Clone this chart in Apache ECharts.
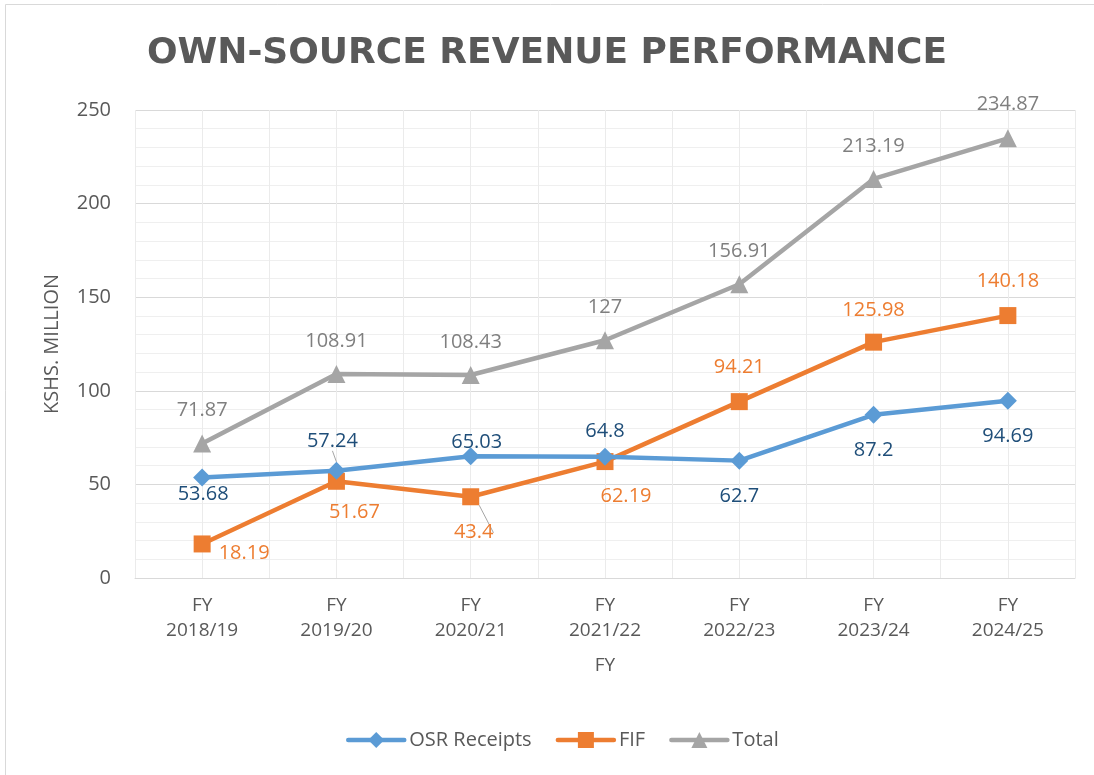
<!DOCTYPE html>
<html>
<head>
<meta charset="UTF-8">
<title>Own-Source Revenue Performance</title>
<script src="https://cdn.jsdelivr.net/npm/echarts@6/dist/echarts.min.js"></script>
<style>
  html, body { margin: 0; padding: 0; background: #fff; }
  #main { width: 1094px; height: 775px; }
</style>
</head>
<body>
<div id="main"></div>
<script>
// data
var years = ['FY 2018/19', 'FY 2019/20', 'FY 2020/21', 'FY 2021/22', 'FY 2022/23', 'FY 2023/24', 'FY 2024/25'];
var osrReceipts = [53.68, 57.24, 65.03, 64.8, 62.7, 87.2, 94.69];
var fif = [18.19, 51.67, 43.4, 62.19, 94.21, 125.98, 140.18];
var total = [71.87, 108.91, 108.43, 127, 156.91, 213.19, 234.87];
var yTicks = [0, 50, 100, 150, 200, 250];

var font = '"Open Sans", sans-serif';
var textGrey = '#595959';

// where each data label sits relative to its point (dx, dy)
var osrOffsets = [[1, 17], [-4, -30], [6, -14], [0, -25], [0, 36], [0, 36], [0, 36]];
var fifOffsets = [[42, 9], [18, 31], [3, 36], [21, 35], [0, -34], [0, -32], [0, -34]];
var totalOffsets = [[0, -33], [0, -33], [0, -33], [0, -33], [0, -33], [0, -33], [0, -34]];
// labels pushed away from their point get a small leader line
var osrLeaders = [1];
var fifLeaders = [2];

function withLabels(values, offsets, color, leaders) {
  return values.map(function (v, i) {
    var item = {
      value: v,
      label: { position: 'inside', offset: offsets[i], color: color }
    };
    if (leaders.indexOf(i) >= 0) {
      item.labelLine = { show: true, lineStyle: { color: '#a6a6a6', width: 1 } };
    }
    return item;
  });
}

var myChart = echarts.init(document.getElementById('main'));

myChart.setOption({
  backgroundColor: '#fff',
  animation: false,
  title: {
    text: 'OWN-SOURCE REVENUE PERFORMANCE',
    left: 'center',
    top: 31,
    textStyle: { fontFamily: '"DejaVu Sans", sans-serif', fontWeight: 'bold', fontSize: 36, color: textGrey }
  },
  graphic: [{
    type: 'rect',
    shape: { x: 5.5, y: 4.5, width: 1200, height: 900 },
    style: { fill: 'none', stroke: '#d9d9d9', lineWidth: 1 },
    silent: true
  }],
  legend: {
    left: 341,
    top: 725,
    itemWidth: 56,
    itemHeight: 20,
    itemGap: 24,
    lineStyle: { width: 4.5, cap: 'round' },
    textStyle: { fontFamily: font, fontSize: 20, color: textGrey },
    data: ['OSR Receipts', 'FIF', 'Total']
  },
  grid: { left: 135, right: 19, top: 110, bottom: 197 },
  xAxis: [{
    type: 'category',
    data: years,
    boundaryGap: true,
    name: 'FY',
    nameLocation: 'middle',
    nameGap: 78,
    nameTextStyle: { fontFamily: font, fontSize: 19, color: textGrey },
    axisLine: { lineStyle: { color: '#d9d9d9', width: 1 } },
    axisTick: { show: false },
    axisLabel: {
      margin: 15,
      fontFamily: font,
      fontSize: 19,
      lineHeight: 25,
      color: textGrey,
      formatter: function (v) { return v.replace(' ', '\n'); }
    },
    splitLine: { show: false }
  }, {
    // only for the vertical grid lines at every half category
    type: 'value',
    min: 0,
    max: 14,
    interval: 1,
    position: 'bottom',
    axisLine: { show: false },
    axisTick: { show: false },
    axisLabel: { show: false },
    splitLine: { show: true, lineStyle: { color: '#ebebeb', width: 1 } }
  }],
  yAxis: {
    type: 'value',
    min: 0,
    max: 250,
    interval: 50,
    name: 'KSHS. MILLION',
    nameLocation: 'middle',
    nameGap: 73,
    nameTextStyle: { fontFamily: font, fontSize: 20, color: textGrey },
    axisLine: { show: false },
    axisTick: { show: false },
    axisLabel: {
      margin: 24,
      fontFamily: font,
      fontSize: 20,
      color: textGrey,
      formatter: function (v) { return yTicks.indexOf(v) >= 0 ? String(v) : ''; }
    },
    splitLine: { lineStyle: { color: '#d9d9d9', width: 1 } },
    minorTick: { show: false, splitNumber: 5 },
    minorSplitLine: { show: true, lineStyle: { color: '#efefef', width: 1 } }
  },
  series: [{
    name: 'OSR Receipts',
    type: 'line',
    data: withLabels(osrReceipts, osrOffsets, '#1f4e79', osrLeaders),
    symbol: 'diamond',
    symbolSize: 18,
    lineStyle: { color: '#5b9bd5', width: 4.5, cap: 'round' },
    itemStyle: { color: '#5b9bd5' },
    label: { show: true, fontFamily: font, fontSize: 20 },
    z: 4
  }, {
    name: 'FIF',
    type: 'line',
    data: withLabels(fif, fifOffsets, '#ed7d31', fifLeaders),
    symbol: 'rect',
    symbolSize: 17,
    lineStyle: { color: '#ed7d31', width: 4.5, cap: 'round' },
    itemStyle: { color: '#ed7d31' },
    label: { show: true, fontFamily: font, fontSize: 20 },
    z: 3
  }, {
    name: 'Total',
    type: 'line',
    data: withLabels(total, totalOffsets, '#7f7f7f', []),
    symbol: 'triangle',
    symbolSize: 18,
    lineStyle: { color: '#a5a5a5', width: 4.5, cap: 'round' },
    itemStyle: { color: '#a5a5a5' },
    label: { show: true, fontFamily: font, fontSize: 20 },
    z: 2
  }]
});
</script>
</body>
</html>
